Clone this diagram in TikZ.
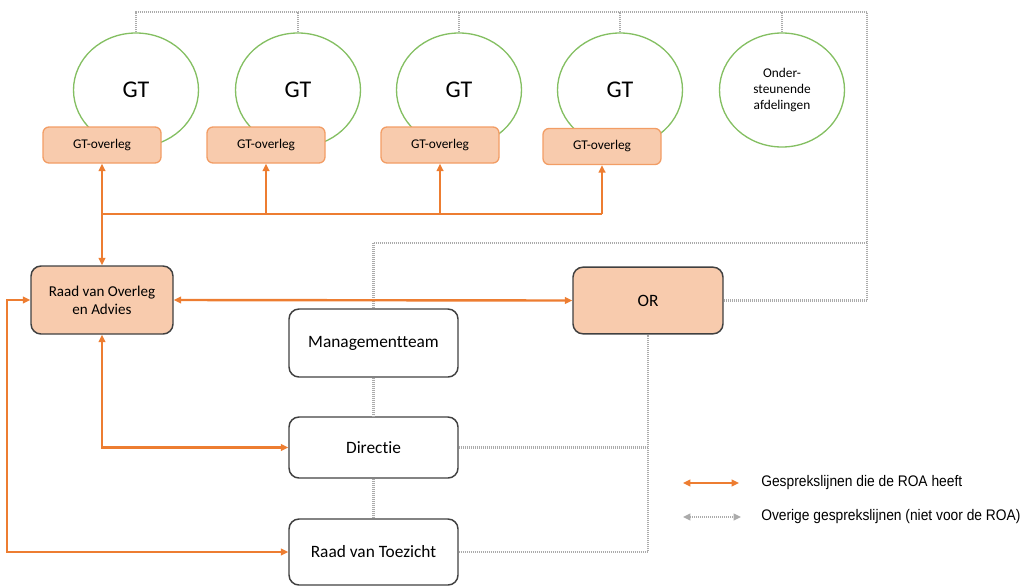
\documentclass[tikz,border=0pt]{standalone}
\usepackage{fontspec}
\setmainfont[Ligatures=NoCommon]{Carlito}
\newfontfamily\legendfont[FakeStretch=0.9]{Liberation Sans}
\usetikzlibrary{arrows.meta,positioning,calc,shapes.geometric}
\definecolor{roaorange}{HTML}{ED7D31}
\definecolor{peach}{HTML}{F8CBAD}
\definecolor{gtgreen}{HTML}{84BF62}
\definecolor{rand}{HTML}{404040}
\definecolor{lijngrijs}{HTML}{ABABAB}

\begin{document}
\begin{tikzpicture}[x=0.75pt,y=-0.75pt,>={Triangle[length=5.5pt,width=5pt]},
gt/.style={draw=gtgreen,line width=1pt,ellipse,minimum width=93.75pt,minimum height=85.5pt,inner sep=0pt,align=center},
ovl/.style={draw=roaorange!75,fill=peach,line width=1pt,rounded corners=4.5pt,minimum width=88.5pt,minimum height=27pt,inner sep=0pt,font=\fontsize{10}{12}\selectfont},
box/.style={draw=rand,line width=1.1pt,rounded corners=7.5pt,minimum width=126.75pt,inner sep=0pt,align=center,font=\fontsize{13}{15}\selectfont},
roaline/.style={draw=roaorange,line width=1.8pt},
rest/.style={draw=lijngrijs,line width=1.7pt,dash pattern=on 0.75pt off 0.75pt}]
\useasboundingbox (0,0) rectangle (1023,586);
% gesprekstafels
\node[gt,font=\fontsize{18}{20}\selectfont] (gt1) at (136,90) {GT};
\node[gt,font=\fontsize{18}{20}\selectfont] (gt2) at (298,90) {GT};
\node[gt,font=\fontsize{18}{20}\selectfont] (gt3) at (459,90) {GT};
\node[gt,font=\fontsize{18}{20}\selectfont] (gt4) at (620,90) {GT};
\node[gt,font=\fontsize{10}{12}\selectfont] (steun) at (782,90) {Onder-\\steunende\\afdelingen};
\node[ovl] (ov1) at (102,145) {GT-overleg};
\node[ovl] (ov2) at (266,145) {GT-overleg};
\node[ovl] (ov3) at (440,145) {GT-overleg};
\node[ovl] (ov4) at (602,146.5) {GT-overleg};
% organen
\node[box,fill=peach,minimum width=106.5pt,minimum height=51pt,font=\fontsize{11.3}{13.5}\selectfont] (roa) at (102,300) {Raad van Overleg\\en Advies};
\node[box,fill=peach,minimum width=112.5pt,minimum height=50pt] (or) at (648,300.5) {OR};
\node[box,minimum height=51pt] (mt) at (373.5,343) {Managementteam};
\node[box,minimum height=45.75pt] (dir) at (373.5,447.5) {Directie};
\node[box,minimum height=49.5pt] (rvt) at (373.5,552) {Raad van Toezicht};
% overige lijnen
\coordinate (tr) at (867,12);
\coordinate (mid) at (373.5,243);
\draw[rest] (gt1.north) -- (gt1.north |- tr) -- (tr) -- (tr |- or.east) -- (or.east);
\draw[rest] (gt2.north) -- (gt2.north |- tr);
\draw[rest] (gt3.north) -- (gt3.north |- tr);
\draw[rest] (gt4.north) -- (gt4.north |- tr);
\draw[rest] (steun.north) -- (steun.north |- tr);
\draw[rest] (mid) -- (mid -| tr);
\draw[rest] (mid) -- (mt.north);
\draw[rest] (mt.south) -- (dir.north);
\draw[rest] (dir.south) -- (rvt.north);
\draw[rest] (dir.east) -- (dir.east -| or.south) -- (or.south);
\draw[rest] (rvt.east) -| (or.south);
% lijnen van de ROA
\coordinate (bus) at (102,214);
\draw[roaline,<->] (roa.north) -- (ov1.south);
\draw[roaline] (bus) -- (bus -| ov4.south);
\draw[roaline,->] (bus -| ov2.south) -- (ov2.south);
\draw[roaline,->] (bus -| ov3.south) -- (ov3.south);
\draw[roaline,->] (bus -| ov4.south) -- (ov4.south);
\draw[roaline,<->] (roa.east) -- (or.west);
\draw[roaline,<->] (roa.south) |- (dir.west);
\draw[roaline,<->] (roa.west) -- ++(-23,0) |- (rvt.west);
% legenda
\node[anchor=west,inner sep=0pt,font=\legendfont\fontsize{11.5}{13}\selectfont] (legroa) at (761,483) {Gesprekslijnen die de ROA heeft};
\node[anchor=west,inner sep=0pt,font=\legendfont\fontsize{11.5}{13}\selectfont] (legrest) at (761,517) {Overige gesprekslijnen (niet voor de ROA)};
\coordinate (la) at (683,483);
\coordinate (lb) at (739,483);
\coordinate (lc) at (683,517);
\coordinate (ld) at (741,517);
\draw[roaline,<->] (la) -- (lb);
\draw[rest,<->] (lc) -- (ld);
\end{tikzpicture}
\end{document}
